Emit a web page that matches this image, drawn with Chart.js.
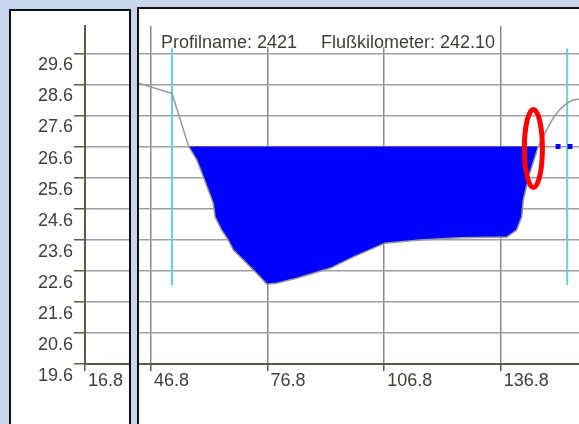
<!DOCTYPE html>
<html>
<head>
<meta charset="utf-8">
<script src="https://cdn.jsdelivr.net/npm/chart.js@4.4.1/dist/chart.umd.min.js"></script>
<style>
html, body { margin: 0; padding: 0; width: 579px; height: 424px; overflow: hidden; background: #c9d6ee; }
.panel { position: absolute; background: #fff; border: 2px solid #111; overflow: hidden; }
#leftPanel { left: 9px; top: 9px; width: 118px; height: 430px; }
#rightPanel { left: 137px; top: 7px; width: 460px; height: 430px; }
canvas { position: absolute; }
#leftChart { left: -11px; top: -11px; }
#rightChart { left: 0; top: -9px; }
</style>
</head>
<body>
<div class="panel" id="leftPanel"><canvas id="leftChart" width="132" height="424"></canvas></div>
<div class="panel" id="rightPanel"><canvas id="rightChart" width="440" height="424"></canvas></div>
<script>
// profile data (station in m, elevation in m)
const groundX = [43.4, 52.2, 56.5, 58.56, 60.26, 62.83, 63.27, 64.99, 66.69, 67.98, 71.43, 74.85, 76.57, 79.15, 84.29, 92.86, 98.78, 107.0, 116.0, 126.3, 138.4, 140.9, 142.2, 142.6, 144.3, 146.4, 148.6, 149.7, 150.8, 152.2, 153.8, 155.1, 156.9];
const groundY = [28.65, 28.31, 26.60, 26.17, 25.63, 24.77, 24.34, 23.91, 23.59, 23.27, 22.84, 22.41, 22.17, 22.20, 22.36, 22.68, 23.04, 23.49, 23.59, 23.66, 23.69, 23.91, 24.34, 24.88, 25.75, 26.58, 27.13, 27.39, 27.61, 27.82, 27.99, 28.08, 28.13];
const waterLevel = 26.6;
const waterX = [56.5, 58.56, 60.26, 62.83, 63.27, 64.99, 66.69, 67.98, 71.43, 74.85, 76.57, 79.15, 84.29, 92.86, 98.78, 107.0, 116.0, 126.3, 138.4, 140.9, 142.2, 142.6, 144.3, 146.4];
const waterY = [26.6, 26.17, 25.63, 24.77, 24.34, 23.91, 23.59, 23.27, 22.84, 22.41, 22.17, 22.20, 22.36, 22.68, 23.04, 23.49, 23.59, 23.66, 23.69, 23.91, 24.34, 24.88, 25.75, 26.6];
const levelX = [150.9, 156.9];
const bankX = [52.2, 153.9];
const bankBottom = 22.14;
const bankTop = 29.76;
const yTicks = [19.6, 20.6, 21.6, 22.6, 23.6, 24.6, 25.6, 26.6, 27.6, 28.6, 29.6];
const xTicksLeft = [16.8];
const xTicksRight = [46.8, 76.8, 106.8, 136.8];
const profilName = 'Profilname: 2421';
const flussKm = 'Flußkilometer: 242.10';
const markCenter = [145.2, 26.54];
const markRadius = [2.32, 1.255];

const FONT = { family: "'Liberation Sans', Arial, sans-serif", size: 18 };
const TEXT = '#3f3f35';
const AXIS = '#5b5b48';
const GRID = '#a0a0a0';
const yMin = 19.6, yMax = 30.48;

function pts(xs, ys) {
    return xs.map((x, i) => ({ x: x, y: Array.isArray(ys) ? ys[i] : ys }));
}

function yScale(showLabels) {
    return {
        type: 'linear', min: yMin, max: yMax,
        afterBuildTicks: s => { s.ticks = yTicks.map(v => ({ value: v })); },
        afterFit: s => { s.width = showLabels ? 85 : 0; },
        ticks: {
            display: showLabels, autoSkip: false, font: FONT, color: TEXT,
            padding: 1, labelOffset: 12,
            callback: v => v.toFixed(1)
        },
        grid: { color: GRID, lineWidth: 1.5, drawTicks: showLabels, tickLength: 11, tickColor: AXIS, tickWidth: 1.5 },
        border: { display: showLabels, color: AXIS, width: 2 }
    };
}

function xScale(min, max, ticks, gridColor) {
    return {
        type: 'linear', min: min, max: max,
        afterBuildTicks: s => { s.ticks = ticks.map(v => ({ value: v })); },
        afterFit: s => { s.height = 60; },
        ticks: {
            autoSkip: false, font: FONT, color: TEXT, align: 'start',
            maxRotation: 0, padding: -1, labelOffset: 3,
            callback: v => v.toFixed(1)
        },
        grid: { color: gridColor, lineWidth: 1.5, tickLength: 7, tickColor: AXIS, tickWidth: 1.5 },
        border: { color: AXIS, width: 2 }
    };
}

const baseOptions = {
    responsive: false,
    animation: false,
    devicePixelRatio: 1,
    layout: { padding: { top: 26 } },
    plugins: { legend: { display: false }, tooltip: { enabled: false }, title: { display: false } },
    elements: { point: { radius: 0 } }
};

new Chart(document.getElementById('leftChart'), {
    type: 'line',
    data: { datasets: [] },
    options: Object.assign({}, baseOptions, {
        scales: { x: xScale(16.8, 28.8, xTicksLeft, AXIS), y: yScale(true) }
    })
});

const titleBox = {
    id: 'titleBox',
    beforeDatasetsDraw(chart) {
        const ctx = chart.ctx;
        const x = chart.scales.x;
        ctx.save();
        ctx.fillStyle = '#fff';
        ctx.fillRect(x.getPixelForValue(xTicksRight[0]) + 2, chart.chartArea.top - 2, 344, 23);
        ctx.fillStyle = TEXT;
        ctx.font = "18px 'Liberation Sans', Arial, sans-serif";
        ctx.textBaseline = 'alphabetic';
        ctx.fillText(profilName, 22, 39 + 9);
        ctx.fillText(flussKm, 182, 39 + 9);
        ctx.restore();
    }
};

const marker = {
    id: 'marker',
    afterDatasetsDraw(chart) {
        const ctx = chart.ctx;
        const x = chart.scales.x, y = chart.scales.y;
        const cx = x.getPixelForValue(markCenter[0]);
        const cy = y.getPixelForValue(markCenter[1]);
        const rx = x.getPixelForValue(markCenter[0] + markRadius[0]) - cx;
        const ry = cy - y.getPixelForValue(markCenter[1] + markRadius[1]);
        ctx.save();
        ctx.strokeStyle = '#ff0000';
        ctx.lineWidth = 5;
        ctx.beginPath();
        ctx.ellipse(cx, cy, rx, ry, 0, 0, Math.PI * 2);
        ctx.stroke();
        ctx.restore();
    }
};

new Chart(document.getElementById('rightChart'), {
    type: 'line',
    data: {
        datasets: [
            { data: pts(groundX, groundY), borderColor: '#9a9a9a', borderWidth: 1.5, fill: false, tension: 0 },
            { data: pts(waterX, waterY), borderWidth: 0, borderColor: 'rgba(0,0,255,0)', backgroundColor: '#0000ff', fill: { value: waterLevel }, tension: 0 },
            { data: pts(levelX, waterLevel), borderColor: '#0000ff', borderWidth: 5, borderDash: [5, 7], borderCapStyle: 'butt', fill: false },
            { data: pts([bankX[0], bankX[0]], [bankBottom, bankTop]), borderColor: '#66d2d2', borderWidth: 2, fill: false },
            { data: pts([bankX[1], bankX[1]], [bankBottom, bankTop]), borderColor: '#66d2d2', borderWidth: 2, fill: false }
        ]
    },
    options: Object.assign({}, baseOptions, {
        scales: {
            x: xScale(46.8 - 12 / 3.886, 46.8 + 428 / 3.886, xTicksRight, '#8a8a8a'),
            y: yScale(false)
        }
    }),
    plugins: [titleBox, marker]
});
</script>
</body>
</html>
